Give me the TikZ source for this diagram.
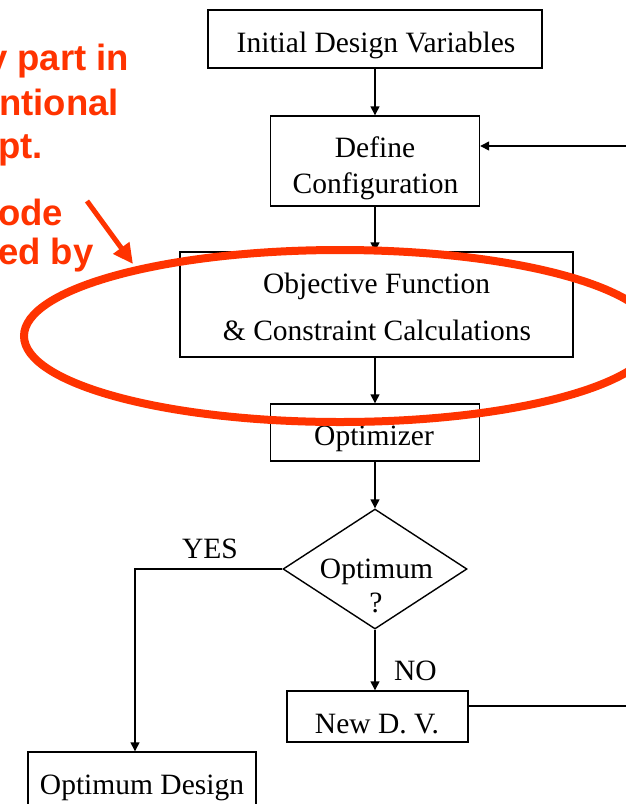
\documentclass[tikz,border=0pt]{standalone}
\usepackage{fontspec}
\setmainfont{Liberation Serif}
\newfontfamily\calloutfont{Liberation Sans}
\usetikzlibrary{arrows.meta,shapes.geometric}
\definecolor{callout}{RGB}{255,51,0}

\begin{document}
\begin{tikzpicture}[x=1pt,y=-1pt,
  box/.style={draw, line width=1.4pt, inner sep=0pt},
  lbl/.style={inner sep=0pt, anchor=base, font=\fontsize{29.5}{36}\selectfont},
  note/.style={inner sep=0pt, anchor=base west, text=callout,
    font=\calloutfont\bfseries\fontsize{36.5}{43}\selectfont},
  flow/.style={line width=1.4pt, -{Triangle[length=9pt,width=9pt]}},
  plain/.style={line width=1.4pt}]

\useasboundingbox (0,0) rectangle (626,804);
\clip (0,0) rectangle (626,804);

% flowchart blocks
\node[box, minimum width=334, minimum height=58]  (init)   at (375,39)    {};
\node[box, minimum width=209, minimum height=90]  (define) at (375,161)   {};
\node[box, minimum width=393, minimum height=105] (objfun) at (376.5,304.5) {};
\node[box, minimum width=209, minimum height=57]  (optim)  at (375,432.5) {};
\node[box, diamond, minimum width=184, minimum height=120] (test) at (375,569) {};
\node[box, minimum width=181, minimum height=51]  (newdv)  at (377.5,716.5) {};
\node[box, minimum width=228, minimum height=62]  (optdes) at (142,783)   {};

% block texts
\node[lbl] (t-init)  at (376,52)    {Initial Design Variables};
\node[lbl] (t-def1)  at (375,157)   {Define};
\node[lbl] (t-def2)  at (375.5,193) {Configuration};
\node[lbl] (t-obj1)  at (376.5,293) {Objective Function};
\node[lbl] (t-obj2)  at (377,340)   {\& Constraint Calculations};
\node[lbl] (t-optim) at (374,445)   {Optimizer};
\node[lbl] (t-test1) at (376.5,578) {Optimum};
\node[lbl] (t-test2) at (376,612)   {?};
\node[lbl] (t-newdv) at (377,733)   {New D. V.};
\node[lbl] (t-optd)  at (142,794)   {Optimum Design};
\node[lbl] (t-yes)   at (210,558)   {YES};
\node[lbl] (t-no)    at (415.5,680) {NO};

% main flow
\draw[flow] (init.south)   -- (define.north);
\draw[flow] (define.south) -- (define.south |- objfun.north);
\draw[flow] (define.south |- objfun.south) -- (optim.north);
\draw[flow] (optim.south)  -- (test.north);
\draw[flow] (test.south)   -- (test.south |- newdv.north);

% YES branch
\coordinate (yesdrop) at (135,569);
\draw[flow] (test.west) -- (yesdrop) -- (yesdrop |- optdes.north);

% loop back from the new design variables
\coordinate (loopbot) at (650,706);
\coordinate (looptop) at (650,146);
\draw[flow] (newdv.east |- loopbot) -- (loopbot) -- (looptop) -- (define.east |- looptop);

% callout
\node[note] (n1) at (-13,70)  {y part in};
\node[note] (n2) at (-1,115)  {ntional};
\node[note] (n3) at (-2,158)  {pt.};
\node[note] (n4) at (-2,225)  {ode};
\node[note] (n5) at (-2,264)  {ed by};

\coordinate (ptrtail) at (87,201);
\coordinate (ptrtip)  at (133,264);
\draw[callout, line width=5pt, -{Triangle[length=20pt,width=19pt]}] (ptrtail) -- (ptrtip);

\draw[callout, line width=8pt] (340,336) ellipse [x radius=316, y radius=86];
\end{tikzpicture}
\end{document}
